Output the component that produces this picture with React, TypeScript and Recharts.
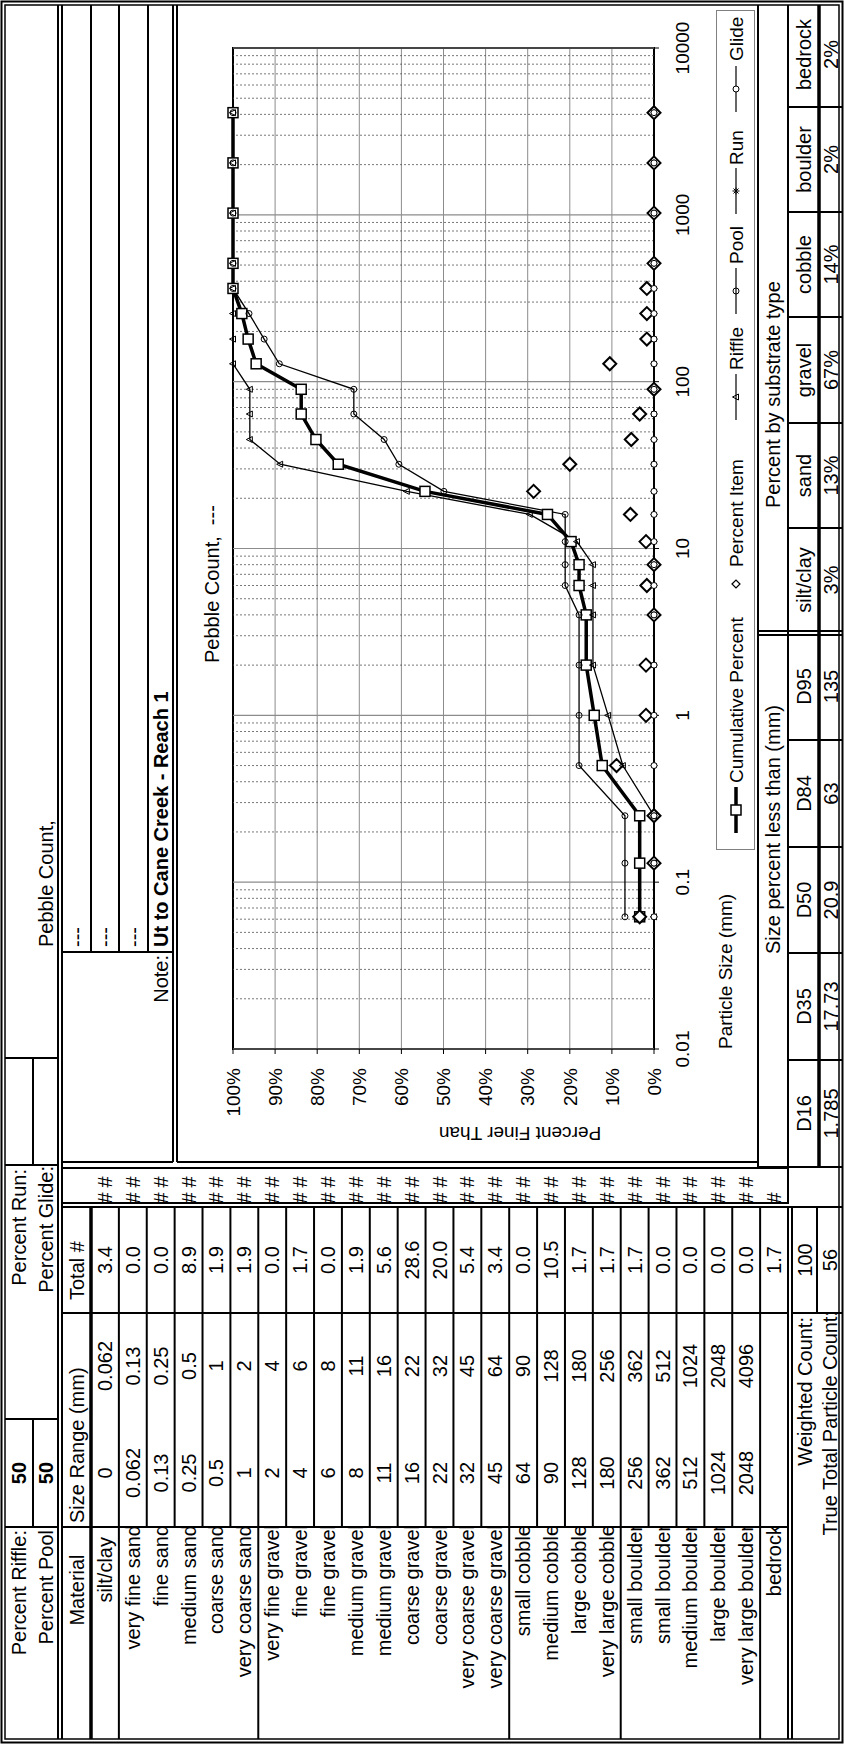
import React from "react";
import {
  ComposedChart,
  Line,
  XAxis,
  YAxis,
  CartesianGrid,
  ReferenceLine,
  ReferenceArea,
} from "recharts";

const FONT = '"Liberation Sans", Arial, sans-serif';

// ---- table data ----
const materials = [
  "silt/clay", "very fine sand", "fine sand", "medium sand", "coarse sand", "very coarse sand",
  "very fine gravel", "fine gravel", "fine gravel", "medium gravel", "medium gravel",
  "coarse gravel", "coarse gravel", "very coarse gravel", "very coarse gravel",
  "small cobble", "medium cobble", "large cobble", "very large cobble",
  "small boulder", "small boulder", "medium boulder", "large boulder", "very large boulder",
  "bedrock",
];
const sizeFrom = ["0", "0.062", "0.13", "0.25", "0.5", "1", "2", "4", "6", "8", "11", "16", "22", "32", "45", "64", "90", "128", "180", "256", "362", "512", "1024", "2048", ""];
const sizeTo = ["0.062", "0.13", "0.25", "0.5", "1", "2", "4", "6", "8", "11", "16", "22", "32", "45", "64", "90", "128", "180", "256", "362", "512", "1024", "2048", "4096", ""];
const totals = ["3.4", "0.0", "0.0", "8.9", "1.9", "1.9", "0.0", "1.7", "0.0", "1.9", "5.6", "28.6", "20.0", "5.4", "3.4", "0.0", "10.5", "1.7", "1.7", "1.7", "0.0", "0.0", "0.0", "0.0", "1.7"];
const groupBreaks = [1, 6, 15, 19, 24];

const dLabels = ["D16", "D35", "D50", "D84", "D95"];
const dValues = ["1.785", "17.73", "20.9", "63", "135"];
const substrateLabels = ["silt/clay", "sand", "gravel", "cobble", "boulder", "bedrock"];
const substrateValues = ["3%", "13%", "67%", "14%", "2%", "2%"];

// ---- chart data ----
const sizes = [0.062, 0.13, 0.25, 0.5, 1, 2, 4, 6, 8, 11, 16, 22, 32, 45, 64, 90, 128, 180, 256, 362, 512, 1024, 2048, 4096];
const cumulative = [3.4, 3.4, 3.4, 12.3, 14.2, 16.1, 16.1, 17.8, 17.8, 19.7, 25.3, 54.4, 75, 80.3, 83.8, 83.8, 94.5, 96.4, 97.9, 100, 100, 100, 100, 100];
const percentItem = [3.4, 0, 0, 8.9, 1.9, 1.9, 0, 1.7, 0, 1.9, 5.6, 28.6, 20.0, 5.4, 3.4, 0, 10.5, 1.7, 1.7, 1.7, 0, 0, 0, 0];
const riffle = [0, 0, 0, 7.4, 10.9, 14.5, 14.5, 14.5, 14.5, 18.3, 29.5, 58.7, 88.8, 96, 96, 96, 100, 100, 100, 100, 100, 100, 100, 100];
const pool = [6.9, 6.9, 6.9, 17.8, 17.8, 17.8, 17.8, 21.1, 21.1, 21.1, 21.1, 49.9, 60.6, 64.1, 71.3, 71.3, 89, 92.6, 96.2, 100, 100, 100, 100, 100];
const run = [0, 0, 0, 0, 0, 0, 0, 0, 0, 0, 0, 0, 0, 0, 0, 0, 0, 0, 0, 0, 0, 0, 0, 0];
const glide = [0, 0, 0, 0, 0, 0, 0, 0, 0, 0, 0, 0, 0, 0, 0, 0, 0, 0, 0, 0, 0, 0, 0, 0];

const xTicks = [0.01, 0.1, 1, 10, 100, 1000, 10000];
const yTicks = [0, 10, 20, 30, 40, 50, 60, 70, 80, 90, 100];

const chartData = sizes.map((s, i) => ({
  size: s,
  cum: cumulative[i],
  item: percentItem[i],
  riffle: riffle[i],
  pool: pool[i],
  run: run[i],
  glide: glide[i],
}));

// minor log gridlines 2..9 per decade
const minorGrid: number[] = [];
xTicks.slice(0, -1).forEach((d) =>
  [2, 3, 4, 5, 6, 7, 8, 9].forEach((m) => minorGrid.push(Number((d * m).toPrecision(3))))
);

// ---- markers ----
const squareDot = (p: any) =>
  p.cx == null ? <g key={"s" + p.index} /> : (
    <rect key={"s" + p.index} x={p.cx - 5} y={p.cy - 5} width={10} height={10} fill="#fff" stroke="#000" strokeWidth={1.5} />
  );
const diamondDot = (p: any) =>
  p.cx == null ? <g key={"d" + p.index} /> : (
    <path key={"d" + p.index} d={`M${p.cx},${p.cy - 6.5}L${p.cx + 6.5},${p.cy}L${p.cx},${p.cy + 6.5}L${p.cx - 6.5},${p.cy}Z`} fill="#fff" stroke="#000" strokeWidth={2} />
  );
const triangleDot = (p: any) =>
  p.cx == null ? <g key={"t" + p.index} /> : (
    <path key={"t" + p.index} d={`M${p.cx},${p.cy - 3.5}L${p.cx + 3},${p.cy + 2.5}L${p.cx - 3},${p.cy + 2.5}Z`} fill="none" stroke="#000" strokeWidth={1} />
  );
const poolDot = (p: any) =>
  p.cx == null ? <g key={"p" + p.index} /> : (
    <circle key={"p" + p.index} cx={p.cx} cy={p.cy} r={3} fill="none" stroke="#000" strokeWidth={1} />
  );
const asteriskDot = (p: any) =>
  p.cx == null ? <g key={"a" + p.index} /> : (
    <path key={"a" + p.index} d={`M${p.cx - 3.5},${p.cy}H${p.cx + 3.5}M${p.cx},${p.cy - 3.5}V${p.cy + 3.5}M${p.cx - 2.5},${p.cy - 2.5}L${p.cx + 2.5},${p.cy + 2.5}M${p.cx - 2.5},${p.cy + 2.5}L${p.cx + 2.5},${p.cy - 2.5}`} stroke="#000" strokeWidth={1} />
  );
const glideDot = (p: any) =>
  p.cx == null ? <g key={"g" + p.index} /> : (
    <circle key={"g" + p.index} cx={p.cx} cy={p.cy} r={3} fill="#fff" stroke="#000" strokeWidth={1} />
  );

// legend drawn in sheet coordinates (box at 894,716)
function LegendBox() {
  const cy = 20;
  const seg = (x1: number, w = 1.2) => <line x1={x1} y1={cy} x2={x1 + 46} y2={cy} stroke="#000" strokeWidth={w} />;
  const t = (x: number, s: string) => (
    <text x={x} y={cy} fontSize={19} dominantBaseline="central" fill="#000">{s}</text>
  );
  return (
    <g transform="translate(894,716)">
      <rect x={0.5} y={0.5} width={839} height={38} fill="#fff" stroke="#808080" />
      {seg(17, 3.5)}
      <rect x={35} y={cy - 5} width={10} height={10} fill="#fff" stroke="#000" strokeWidth={1.5} />
      {t(67, "Cumulative Percent")}
      <path d={`M266,${cy - 4}L270,${cy}L266,${cy + 4}L262,${cy}Z`} fill="#fff" stroke="#000" strokeWidth={1.2} />
      {t(283, "Percent Item")}
      {seg(430)}
      <path d={`M453,${cy - 3.5}L456,${cy + 2.5}L450,${cy + 2.5}Z`} fill="none" stroke="#000" />
      {t(480, "Riffle")}
      {seg(536)}
      <circle cx={559} cy={cy} r={3} fill="none" stroke="#000" />
      {t(586, "Pool")}
      {seg(636)}
      <path d={`M655.5,${cy}H662.5M659,${cy - 3.5}V${cy + 3.5}M656.5,${cy - 2.5}L661.5,${cy + 2.5}M656.5,${cy + 2.5}L661.5,${cy - 2.5}`} stroke="#000" />
      {t(685, "Run")}
      {seg(738)}
      <circle cx={761} cy={cy} r={3} fill="#fff" stroke="#000" />
      {t(789, "Glide")}
    </g>
  );
}

function PebbleChart() {
  return (
    <div style={{ position: "absolute", left: 600, top: 180, width: 1140, height: 560 }}>
      <ComposedChart width={1140} height={560} data={chartData} margin={{ top: 53, right: 44, bottom: 56, left: 35 }}>
        <CartesianGrid vertical={false} stroke="#8c8c8c" strokeWidth={1} />
        {minorGrid.map((v) => (
          <ReferenceLine key={"m" + v} x={v} stroke="#555" strokeDasharray="2 2" strokeWidth={0.8} />
        ))}
        {xTicks.map((v) => (
          <ReferenceLine key={"M" + v} x={v} stroke="#8c8c8c" strokeWidth={1.2} />
        ))}
        <XAxis
          dataKey="size"
          type="number"
          scale="log"
          domain={[0.01, 10000]}
          ticks={xTicks}
          interval={0}
          allowDataOverflow
          height={30}
          axisLine={false}
          tickLine={{ stroke: "#000" }}
          tickSize={5}
          tickMargin={17}
          tick={{ fontSize: 19, fill: "#000" }}
          tickFormatter={(v: number) => String(v)}
        />
        <YAxis
          type="number"
          domain={[0, 100]}
          ticks={yTicks}
          interval={0}
          width={60}
          axisLine={false}
          tickLine={{ stroke: "#000" }}
          tickSize={5}
          tickMargin={14}
          tick={{ fontSize: 19, fill: "#000" }}
          tickFormatter={(v: number) => v + "%"}
        />
        <ReferenceArea x1={0.01} x2={10000} y1={0} y2={100} fill="none" stroke="#000" strokeWidth={2} />
        <Line dataKey="cum" name="Cumulative Percent" stroke="#000" strokeWidth={3.5} dot={squareDot} activeDot={false} isAnimationActive={false} />
        <Line dataKey="item" name="Percent Item" stroke="none" dot={diamondDot} activeDot={false} isAnimationActive={false} />
        <Line dataKey="riffle" name="Riffle" stroke="#000" strokeWidth={1.3} dot={triangleDot} activeDot={false} isAnimationActive={false} />
        <Line dataKey="pool" name="Pool" stroke="#000" strokeWidth={1.3} dot={poolDot} activeDot={false} isAnimationActive={false} />
        <Line dataKey="run" name="Run" stroke="#000" strokeWidth={1.3} dot={asteriskDot} activeDot={false} isAnimationActive={false} />
        <Line dataKey="glide" name="Glide" stroke="#000" strokeWidth={1.5} dot={glideDot} activeDot={false} isAnimationActive={false} />
      </ComposedChart>
    </div>
  );
}

// ---- sheet (landscape coords, 1744 x 844) ----
const ROW0 = 91;
const ROWH = (788 - 91) / 25;
const rowY = (i: number) => ROW0 + i * ROWH;

function Ln({ x1, y1, x2, y2, w = 2 }: any) {
  return <line x1={x1} y1={y1} x2={x2} y2={y2} stroke="#000" strokeWidth={w} />;
}
function Tx({ x, y, a = "start", s = 20, b = false, clip, rot, children }: any) {
  return (
    <text
      x={x}
      y={y}
      textAnchor={a}
      dominantBaseline="central"
      fontSize={s}
      fontWeight={b ? 700 : 400}
      fill="#000"
      clipPath={clip}
      transform={rot ? `rotate(${rot} ${x} ${y})` : undefined}
    >
      {children}
    </text>
  );
}

const dCenters = [630.5, 737.5, 844, 950.5, 1057.5];
const dLines = [684, 791, 897, 1004];
const subCenters = [1164, 1268.5, 1374, 1479.5, 1584.5, 1689.5];
const subLines = [1216, 1321, 1427, 1532, 1637];

function Sheet() {
  return (
    <svg width={1744} height={844} style={{ position: "absolute", left: 0, top: 0, fontFamily: FONT }}>
      <defs>
        <clipPath id="matClip">
          <rect x={5} y={62} width={211} height={730} />
        </clipPath>
        <clipPath id="wcClip">
          <rect x={5} y={792} width={425} height={50} />
        </clipPath>
        <clipPath id="glideClip">
          <rect x={326} y={5} width={252} height={53} />
        </clipPath>
      </defs>
      <rect x={1.5} y={1.5} width={1741} height={841} fill="none" stroke="#000" strokeWidth={2} />
      <rect x={5} y={5} width={1734} height={834} fill="none" stroke="#000" strokeWidth={1.5} />

      {/* header strip */}
      <Ln x1={5} y1={58} x2={1739} y2={58} />
      <Ln x1={5} y1={62} x2={1739} y2={62} />
      <Ln x1={217} y1={5} x2={217} y2={58} />
      <Ln x1={325} y1={5} x2={325} y2={58} />
      <Ln x1={217} y1={33} x2={325} y2={33} />
      <Ln x1={579} y1={5} x2={579} y2={58} />
      <Ln x1={686} y1={5} x2={686} y2={58} />
      <Ln x1={579} y1={33} x2={686} y2={33} />
      <Tx x={214} y={19} a="end">Percent Riffle:</Tx>
      <Tx x={214} y={46} a="end">Percent Pool</Tx>
      <Tx x={271} y={19} a="middle" b>50</Tx>
      <Tx x={271} y={46} a="middle" b>50</Tx>
      <Tx x={575} y={19} a="end" clip="url(#glideClip)">Percent Run:</Tx>
      <Tx x={578} y={46} a="end" clip="url(#glideClip)">Percent Glide:</Tx>
      <Tx x={797} y={46}>Pebble Count,</Tx>

      {/* size class table */}
      <Tx x={154} y={77} a="middle">Material</Tx>
      <Tx x={221} y={77}>Size Range (mm)</Tx>
      <Tx x={444} y={77}>Total #</Tx>
      <Ln x1={5} y1={91} x2={537} y2={91} w={3.5} />
      {materials.map((m, i) => (
        <g key={"r" + i}>
          {i > 0 && <Ln x1={217} y1={rowY(i)} x2={537} y2={rowY(i)} />}
          <Tx x={i === 0 ? 207 : 219} y={rowY(i) + ROWH / 2} a="end" clip="url(#matClip)">{m}</Tx>
          <Tx x={271} y={rowY(i) + ROWH / 2} a="middle">{sizeFrom[i]}</Tx>
          <Tx x={378} y={rowY(i) + ROWH / 2} a="middle">{sizeTo[i]}</Tx>
          <Tx x={484} y={rowY(i) + ROWH / 2} a="middle">{totals[i]}</Tx>
          <Tx x={546} y={rowY(i) + ROWH / 2} a="middle">#</Tx>
          {i < materials.length - 1 && <Tx x={562} y={rowY(i) + ROWH / 2} a="middle">#</Tx>}
        </g>
      ))}
      {groupBreaks.map((g) => (
        <Ln key={"g" + g} x1={5} y1={rowY(g)} x2={217} y2={rowY(g)} />
      ))}
      <Ln x1={217} y1={62} x2={217} y2={788} />
      <Ln x1={431} y1={62} x2={431} y2={788} />
      <Ln x1={537} y1={62} x2={537} y2={842} />
      <Ln x1={5} y1={788} x2={537} y2={788} />
      <Ln x1={5} y1={792} x2={537} y2={792} />
      <rect x={541} y={62} width={35} height={726} fill="none" stroke="#000" strokeWidth={2} />

      {/* counts */}
      <Ln x1={431} y1={792} x2={431} y2={842} />
      <Ln x1={431} y1={817} x2={537} y2={817} />
      <Tx x={427} y={805} a="end">Weighted Count:</Tx>
      <Tx x={433} y={830} a="end" clip="url(#wcClip)">True Total Particle Count:</Tx>
      <Tx x={484} y={805} a="middle">100</Tx>
      <Tx x={484} y={830} a="middle">56</Tx>

      {/* note block */}
      <Ln x1={582} y1={62} x2={582} y2={173} />
      <Ln x1={792} y1={62} x2={792} y2={173} />
      <Ln x1={792} y1={91} x2={1739} y2={91} />
      <Ln x1={792} y1={119} x2={1739} y2={119} />
      <Ln x1={792} y1={148} x2={1739} y2={148} />
      <Ln x1={582} y1={173} x2={1739} y2={173} />
      <Tx x={789} y={161} a="end">Note:</Tx>
      <Tx x={797} y={77}>---</Tx>
      <Tx x={797} y={105}>---</Tx>
      <Tx x={797} y={134}>---</Tx>
      <Tx x={797} y={161} b>Ut to Cane Creek - Reach 1</Tx>

      {/* chart frame */}
      <Ln x1={582} y1={177} x2={1739} y2={177} />
      <Ln x1={582} y1={177} x2={582} y2={758} />
      <Tx x={1081} y={212}>{"Pebble Count,\u00a0\u00a0---"}</Tx>
      <Tx x={695} y={725} s={19}>Particle Size (mm)</Tx>
      <Tx x={611} y={520} a="middle" s={19} rot={-90}>Percent Finer Than</Tx>
      <LegendBox />

      {/* summary tables */}
      <Ln x1={577} y1={758} x2={1739} y2={758} />
      <Ln x1={577} y1={758} x2={577} y2={842} />
      <Ln x1={577} y1={788} x2={1739} y2={788} />
      <Ln x1={577} y1={819} x2={1739} y2={819} w={3.5} />
      <Ln x1={1109} y1={758} x2={1109} y2={842} />
      <Ln x1={1113} y1={758} x2={1113} y2={842} />
      {dLines.map((x) => (
        <Ln key={"dl" + x} x1={x} y1={788} x2={x} y2={842} />
      ))}
      {subLines.map((x) => (
        <Ln key={"sl" + x} x1={x} y1={788} x2={x} y2={842} />
      ))}
      <Tx x={790} y={773}>Size percent less than (mm)</Tx>
      <Tx x={1236} y={773}>Percent by substrate type</Tx>
      {dLabels.map((d, i) => (
        <g key={"d" + i}>
          <Tx x={dCenters[i]} y={803.5} a="middle">{d}</Tx>
          <Tx x={dCenters[i]} y={831} a="middle">{dValues[i]}</Tx>
        </g>
      ))}
      {substrateLabels.map((d, i) => (
        <g key={"s" + i}>
          <Tx x={subCenters[i]} y={803.5} a="middle">{d}</Tx>
          <Tx x={subCenters[i]} y={831} a="middle">{substrateValues[i]}</Tx>
        </g>
      ))}
    </svg>
  );
}

export default function App() {
  return (
    <div style={{ position: "absolute", left: 0, top: 0, width: 844, height: 1744, overflow: "hidden", background: "#fff", fontFamily: FONT }}>
      <div
        style={{
          position: "absolute",
          left: 0,
          top: 0,
          width: 1744,
          height: 844,
          transformOrigin: "0 0",
          transform: "translate(0px, 1744px) rotate(-90deg)",
        }}
      >
        <Sheet />
        <PebbleChart />
      </div>
    </div>
  );
}
